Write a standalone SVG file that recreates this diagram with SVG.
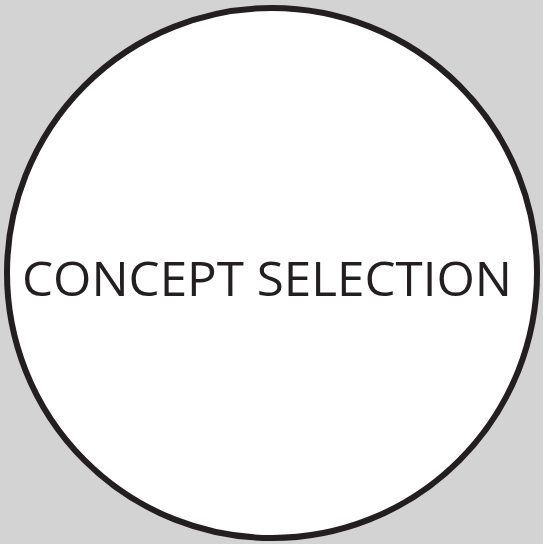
<svg xmlns="http://www.w3.org/2000/svg" width="543" height="544" viewBox="0 0 543 544">
<style>
.bg{fill:#d3d3d3}
.node circle{fill:#ffffff;stroke:#231f20;stroke-width:6}
.node text{font-family:"Open Sans","Liberation Sans",sans-serif;font-size:47px;fill:#231f20}
</style>
<rect class="bg" x="0" y="0" width="543" height="544"/>
<g id="concept-selection" class="node">
<circle cx="272" cy="273" r="265"/>
<text x="267" y="296" text-anchor="middle" textLength="490" lengthAdjust="spacingAndGlyphs">CONCEPT SELECTION</text>
</g>
<g id="connectors"></g>
</svg>
